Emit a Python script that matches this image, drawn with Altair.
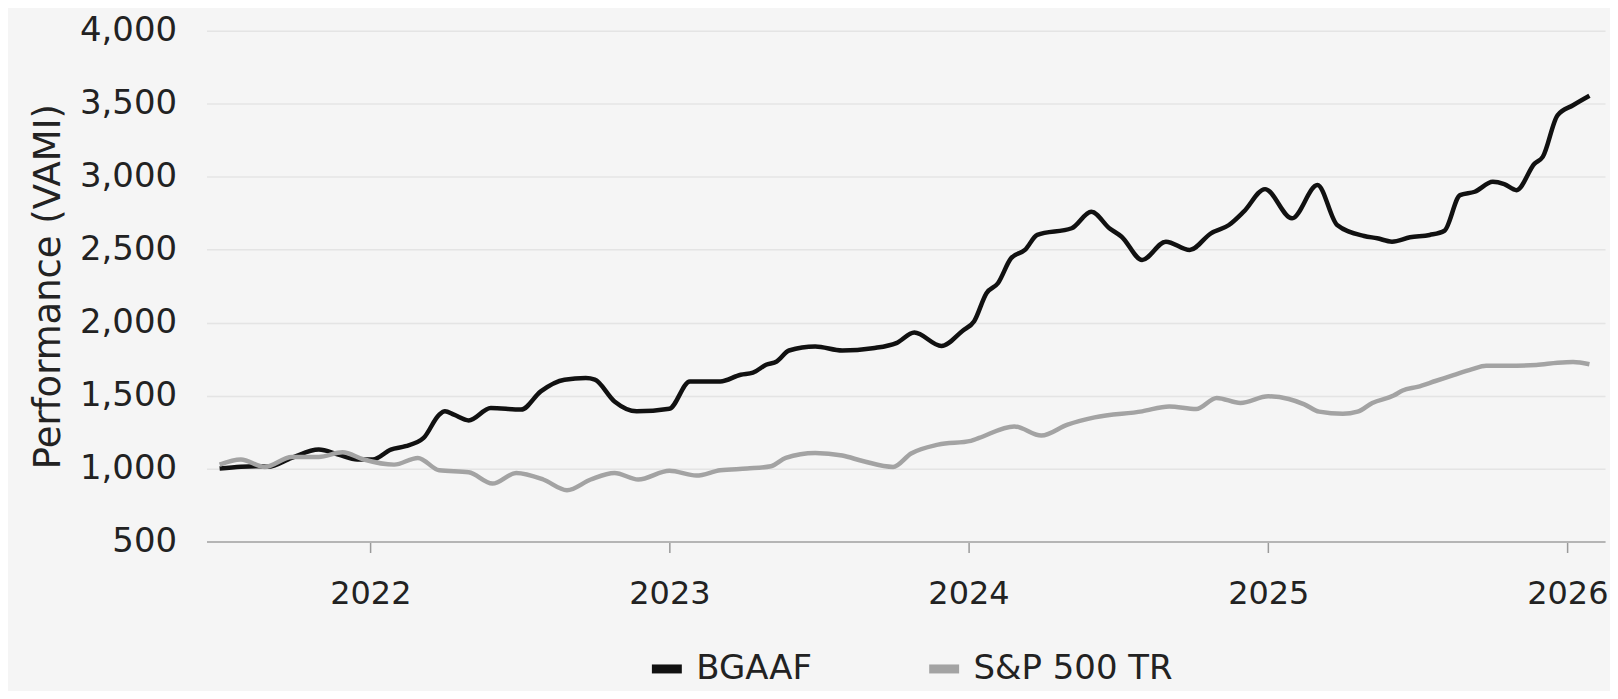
import altair as alt
import pandas as pd

# ---- data ----
bgaaf_dates = [
    "2021-07-01", "2021-07-27", "2021-08-18", "2021-08-29", "2021-09-27", "2021-10-30",
    "2021-11-23", "2021-12-16", "2022-01-04", "2022-01-26", "2022-02-13", "2022-03-07",
    "2022-03-26", "2022-04-02", "2022-04-13", "2022-05-01", "2022-05-28", "2022-07-04",
    "2022-07-28", "2022-08-26", "2022-09-21", "2022-10-02", "2022-10-26", "2022-11-22",
    "2023-01-01", "2023-01-26", "2023-03-04", "2023-03-29", "2023-04-13", "2023-04-29",
    "2023-05-12", "2023-05-27", "2023-06-28", "2023-07-31", "2023-09-06", "2023-10-05",
    "2023-10-27", "2023-11-29", "2023-12-25", "2024-01-08", "2024-01-23", "2024-02-06",
    "2024-02-22", "2024-03-10", "2024-03-25", "2024-05-06", "2024-05-30", "2024-06-21",
    "2024-07-06", "2024-07-31", "2024-08-29", "2024-09-27", "2024-10-23", "2024-11-14",
    "2024-12-02", "2024-12-28", "2025-01-30", "2025-03-02", "2025-03-26", "2025-04-28",
    "2025-05-14", "2025-06-01", "2025-06-23", "2025-07-17", "2025-08-04", "2025-08-23",
    "2025-09-10", "2025-10-02", "2025-10-16", "2025-10-31", "2025-11-22", "2025-12-02",
    "2025-12-20", "2026-01-08", "2026-01-28",
]
bgaaf_values = [
    1000, 1012, 1016, 1012, 1073, 1130,
    1096, 1062, 1062, 1130, 1153, 1210,
    1369, 1392, 1369, 1330, 1415, 1404,
    1529, 1609, 1620, 1609, 1460, 1392,
    1410, 1597, 1597, 1643, 1657, 1711,
    1734, 1809, 1837, 1809, 1825, 1860,
    1932, 1840, 1945, 2010, 2202, 2270,
    2441, 2498, 2601, 2647, 2760, 2647,
    2589, 2430, 2555, 2498, 2612, 2669,
    2760, 2915, 2715, 2943, 2669, 2594,
    2578, 2555, 2585, 2601, 2630, 2874,
    2897, 2965, 2949, 2908, 3090, 3136,
    3421, 3490, 3555,
]

sp_dates = [
    "2021-07-01", "2021-07-27", "2021-08-25", "2021-09-27", "2021-10-30", "2021-11-28",
    "2021-12-24", "2022-01-30", "2022-02-28", "2022-03-26", "2022-05-01", "2022-05-30",
    "2022-06-28", "2022-07-31", "2022-08-29", "2022-09-27", "2022-10-26", "2022-11-24",
    "2023-01-01", "2023-02-03", "2023-03-04", "2023-04-06", "2023-05-05", "2023-05-23",
    "2023-06-28", "2023-07-31", "2023-08-26", "2023-10-01", "2023-10-23", "2023-11-25",
    "2024-01-04", "2024-01-14", "2024-02-26", "2024-03-30", "2024-05-01", "2024-06-03",
    "2024-07-31", "2024-09-02", "2024-10-05", "2024-10-30", "2024-11-28", "2025-01-01",
    "2025-01-26", "2025-02-14", "2025-03-04", "2025-04-02", "2025-04-20", "2025-05-08",
    "2025-06-03", "2025-06-14", "2025-07-02", "2025-07-24", "2025-08-15", "2025-09-06",
    "2025-09-24", "2025-10-20", "2025-11-24", "2025-12-20", "2026-01-08", "2026-01-28",
]
sp_values = [
    1027, 1062, 1011, 1080, 1080, 1112,
    1062, 1027, 1073, 988, 975, 897,
    970, 925, 852, 925, 970, 925,
    985, 952, 988, 1000, 1016, 1073,
    1107, 1089, 1050, 1011, 1103, 1164,
    1190, 1210, 1289, 1226, 1301, 1351,
    1392, 1426, 1408, 1484, 1449, 1495,
    1477, 1440, 1390, 1375, 1390, 1450,
    1500, 1535, 1560, 1600, 1640, 1680,
    1705, 1705, 1710, 1725, 1730, 1715,
]

series_names = ["BGAAF", "S&P 500 TR"]
series_colors = ["#111111", "#a3a3a3"]
y_ticks = [500, 1000, 1500, 2000, 2500, 3000, 3500, 4000]
x_tick_years = [2022, 2023, 2024, 2025, 2026]

df = pd.concat([
    pd.DataFrame({"date": bgaaf_dates, "value": bgaaf_values, "series": series_names[0]}),
    pd.DataFrame({"date": sp_dates, "value": sp_values, "series": series_names[1]}),
])

FONT = "DejaVu Sans"

x_enc = alt.X(
    "date:T",
    scale=alt.Scale(
        type="utc",
        domain=[alt.DateTime(year=2021, month=6, date=15, utc=True),
                alt.DateTime(year=2026, month=2, date=16, utc=True)],
    ),
    axis=alt.Axis(
        title=None,
        values=[alt.DateTime(year=y, month=1, date=1, utc=True) for y in x_tick_years],
        format="%Y",
        formatType="utc",
        grid=False,
        ticks=True,
        tickSize=11,
        tickColor="#9a9a9a",
        tickWidth=1.5,
        domain=True,
        domainColor="#b5b5b5",
        domainWidth=2,
        labelFont=FONT,
        labelFontSize=32,
        labelColor="#222222",
        labelPadding=26,
    ),
)

y_enc = alt.Y(
    "value:Q",
    scale=alt.Scale(domain=[500, 4000], nice=False, zero=False),
    axis=alt.Axis(
        title="Performance (VAMI)",
        titleFont=FONT,
        titleFontSize=37,
        titleFontWeight="normal",
        titleColor="#222222",
        titlePadding=12,
        values=y_ticks,
        format=",d",
        grid=True,
        gridColor="#e4e4e4",
        gridWidth=1.5,
        ticks=False,
        domain=False,
        labelFont=FONT,
        labelFontSize=34,
        labelColor="#222222",
        labelPadding=30,
    ),
)

chart = (
    alt.Chart(df)
    .mark_line(interpolate="monotone", strokeWidth=4.5)
    .encode(
        x=x_enc,
        y=y_enc,
        color=alt.Color(
            "series:N",
            scale=alt.Scale(domain=series_names, range=series_colors),
            legend=alt.Legend(
                title=None,
                orient="none",
                legendX=442,
                legendY=620,
                direction="horizontal",
                columns=2,
                columnPadding=98,
                symbolType="stroke",
                symbolStrokeWidth=9,
                symbolSize=900,
                symbolOffset=0,
                labelFont=FONT,
                labelFontSize=34,
                labelColor="#222222",
                labelOffset=10,
                labelLimit=400,
            ),
        ),
    )
    .properties(
        width=1402,
        height=512,
        autosize=alt.AutoSizeParams(type="none"),
        padding={"left": 199, "top": 22, "right": 5, "bottom": 149},
        background="#f5f5f5",
    )
    .configure_view(stroke=None, fill="#f5f5f5")
)

chart.save("out.html", embed_options={"renderer": "svg", "actions": False})
